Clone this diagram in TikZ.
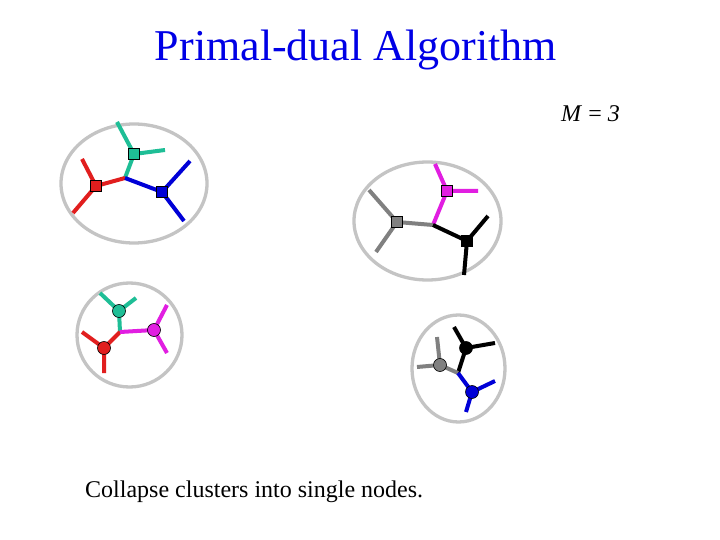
\documentclass[tikz,border=0pt]{standalone}
\usepackage{fontspec}
\setmainfont{Liberation Serif}
\begin{document}
\begin{tikzpicture}[x=1pt,y=-1pt,
  cl/.style={draw=clgray,line width=3.3pt},
  ed/.style={line width=4pt},
  sq/.style={draw=black,line width=0.6pt,minimum size=11pt,inner sep=0pt,rectangle},
  cn/.style={draw=black,line width=0.6pt,minimum size=13pt,inner sep=0pt,circle},
  ]
\definecolor{clgray}{RGB}{196,196,196}
\definecolor{cteal}{RGB}{30,190,150}
\definecolor{cred}{RGB}{225,30,30}
\definecolor{cblue}{RGB}{0,0,215}
\definecolor{cmag}{RGB}{225,30,225}
\definecolor{cgray}{RGB}{128,128,128}
\definecolor{tblue}{RGB}{0,0,230}
\useasboundingbox (0,0) rectangle (720,540);
\fill[white] (0,0) rectangle (720,540);

% texts
\node[anchor=base,text=tblue,font=\fontsize{44}{48}\selectfont,inner sep=0pt] (title) at (356,60.5) {Primal-dual Algorithm};
\node[anchor=base west,font=\fontsize{24}{28}\selectfont,inner sep=0pt] (mlab) at (561,121.5) {\textit{M} = \textit{3}};
\node[anchor=base west,font=\fontsize{24}{28}\selectfont,inner sep=0pt] (cap) at (85,497) {Collapse clusters into single nodes.};

% cluster ellipses
\draw[cl] (134,183.5) ellipse (73 and 59.5);
\draw[cl] (427.5,221) ellipse (73.5 and 59);
\draw[cl] (129.5,335) ellipse (52.5 and 52);
\draw[cl] (458.5,368.5) ellipse (46.5 and 53.5);

% ---------- cluster 1 ----------
\coordinate (j1) at (125,178);
\coordinate (t1a) at (117,122);
\coordinate (t1b) at (165,150);
\coordinate (r1a) at (82,159);
\coordinate (r1b) at (73,213);
\coordinate (b1a) at (190,161);
\coordinate (b1b) at (184,221);
\coordinate (t1) at (134,154);
\coordinate (r1) at (96,186);
\coordinate (b1) at (162,192);
\draw[ed,cteal] (t1a) -- (t1) -- (t1b) (t1) -- (j1);
\draw[ed,cred] (r1a) -- (r1) -- (r1b) (r1) -- (j1);
\draw[ed,cblue] (b1a) -- (b1) -- (b1b) (b1) -- (j1);
\node[sq,fill=cteal] (T1) at (t1) {};
\node[sq,fill=cred] (R1) at (r1) {};
\node[sq,fill=cblue] (B1) at (b1) {};

% ---------- cluster 2 ----------
\coordinate (j2) at (433,225);
\coordinate (m2a) at (435,164);
\coordinate (m2b) at (478,191);
\coordinate (g2a) at (369,190);
\coordinate (g2b) at (376,252);
\coordinate (k2a) at (488,216);
\coordinate (k2b) at (464,275);
\coordinate (m2) at (447,191);
\coordinate (g2) at (397,222);
\coordinate (k2) at (467,241);
\draw[ed,cmag] (m2a) -- (m2) -- (m2b) (m2) -- (j2);
\draw[ed,cgray] (g2a) -- (g2) -- (g2b) (g2) -- (j2);
\draw[ed,black] (k2a) -- (k2) -- (k2b) (k2) -- (j2);
\node[sq,fill=cmag] (M2) at (m2) {};
\node[sq,fill=cgray] (G2) at (g2) {};
\node[sq,fill=black] (K2) at (k2) {};

% ---------- cluster 3 ----------
\coordinate (j3) at (120,332);
\coordinate (t3a) at (100,293);
\coordinate (t3b) at (136,298);
\coordinate (r3a) at (82,332);
\coordinate (r3b) at (104,373);
\coordinate (m3a) at (167,305);
\coordinate (m3b) at (167,353);
\coordinate (t3) at (119,311);
\coordinate (r3) at (104,348);
\coordinate (m3) at (154,330);
\draw[ed,cteal] (t3a) -- (t3) -- (t3b) (t3) -- (j3);
\draw[ed,cred] (r3a) -- (r3) -- (r3b) (r3) -- (j3);
\draw[ed,cmag] (m3a) -- (m3) -- (m3b) (m3) -- (j3);
\node[cn,fill=cteal] (T3) at (t3) {};
\node[cn,fill=cred] (R3) at (r3) {};
\node[cn,fill=cmag] (M3) at (m3) {};

% ---------- cluster 4 ----------
\coordinate (j4) at (458,373);
\coordinate (k4a) at (454,327);
\coordinate (k4b) at (495,343);
\coordinate (g4a) at (437,337);
\coordinate (g4b) at (417,367);
\coordinate (b4a) at (495,381);
\coordinate (b4b) at (466,412);
\coordinate (k4) at (466,348);
\coordinate (g4) at (440,365);
\coordinate (b4) at (472,392);
\draw[ed,black] (k4a) -- (k4) -- (k4b) (k4) -- (j4);
\draw[ed,cgray] (g4a) -- (g4) -- (g4b) (g4) -- (j4);
\draw[ed,cblue] (b4a) -- (b4) -- (b4b) (b4) -- (j4);
\node[cn,fill=black] (K4) at (k4) {};
\node[cn,fill=cgray] (G4) at (g4) {};
\node[cn,fill=cblue] (B4) at (b4) {};
\end{tikzpicture}
\end{document}
